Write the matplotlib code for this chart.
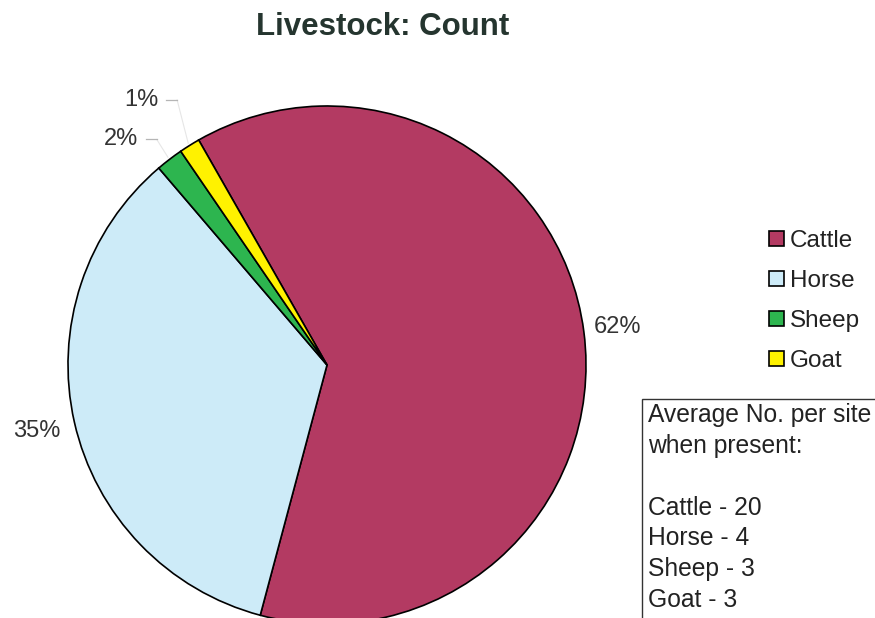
import matplotlib.pyplot as plt
import numpy as np
from matplotlib.patches import Rectangle

# data
animals = ['Cattle', 'Horse', 'Sheep', 'Goat']
shares = [62.4, 34.6, 1.7, 1.3]
colors = ['#B33A62', '#CDEBF8', '#2DB54F', '#FFF200']
avg_per_site = [20, 4, 3, 3]

plt.rcParams['font.family'] = ['Liberation Sans', 'DejaVu Sans']

fig = plt.figure(figsize=(8.75, 6.18), dpi=100)
ax = fig.add_axes([0, 0, 1, 1])

# pie in pixel space (y up)
cx, cy, r = 327, 253, 259
wedges, _ = ax.pie(shares, colors=colors, startangle=119.7, counterclock=False,
                   center=(cx, cy), radius=r,
                   wedgeprops=dict(edgecolor='black', linewidth=1.2))
ax.set_xlim(0, 875)
ax.set_ylim(0, 618)
ax.set_aspect('equal')
ax.axis('off')

# percent labels, placed along each wedge's middle angle
label_dist = [1.13, 1.15, 1.18, 1.25]
label_shift = [0, 0, 5.0, 3]
for w, s, d, sh in zip(wedges, shares, label_dist, label_shift):
    mid = (w.theta1 + w.theta2) / 2
    ang = np.deg2rad(mid + sh)
    x = cx + d * r * np.cos(ang)
    y = cy + d * r * np.sin(ang)
    ax.text(x, y, '%.0f%%' % s, fontsize=17, color='#333333',
            ha='center', va='center')
    if s < 5:
        # faint leader line to the thin slices
        ex = cx + 1.01 * r * np.cos(np.deg2rad(mid))
        ey = cy + 1.01 * r * np.sin(np.deg2rad(mid))
        ax.plot([x + 36, ex], [y, ey], color='#e6e6e6', lw=0.8)
        ax.plot([x + 25, x + 36], [y, y], color='#b5b5b5', lw=0.9)

# legend
fig.legend(wedges, animals, loc='upper left', bbox_to_anchor=(0.868, 0.643),
           frameon=False, fontsize=17.5, handlelength=0.6, handleheight=0.6,
           handletextpad=0.25, labelspacing=0.74, borderaxespad=0,
           labelcolor='#222222')

# note box (runs off the edge like the scan)
ax.add_patch(Rectangle((642, -50), 400, 269, facecolor='white',
                       edgecolor='#333333', lw=1.0))
note = 'Average No. per site\nwhen present:\n\n' + '\n'.join(
    '%s - %d' % (a, n) for a, n in zip(animals, avg_per_site))
ax.text(648, 215, note, fontsize=17.7, color='#222222', ha='left', va='top',
        linespacing=1.36)

ax.text(383, 591, 'Livestock: Count', fontsize=22.5, fontweight='bold',
        color='#25352f', ha='center', va='center')

fig.savefig('out.png', dpi=100)
